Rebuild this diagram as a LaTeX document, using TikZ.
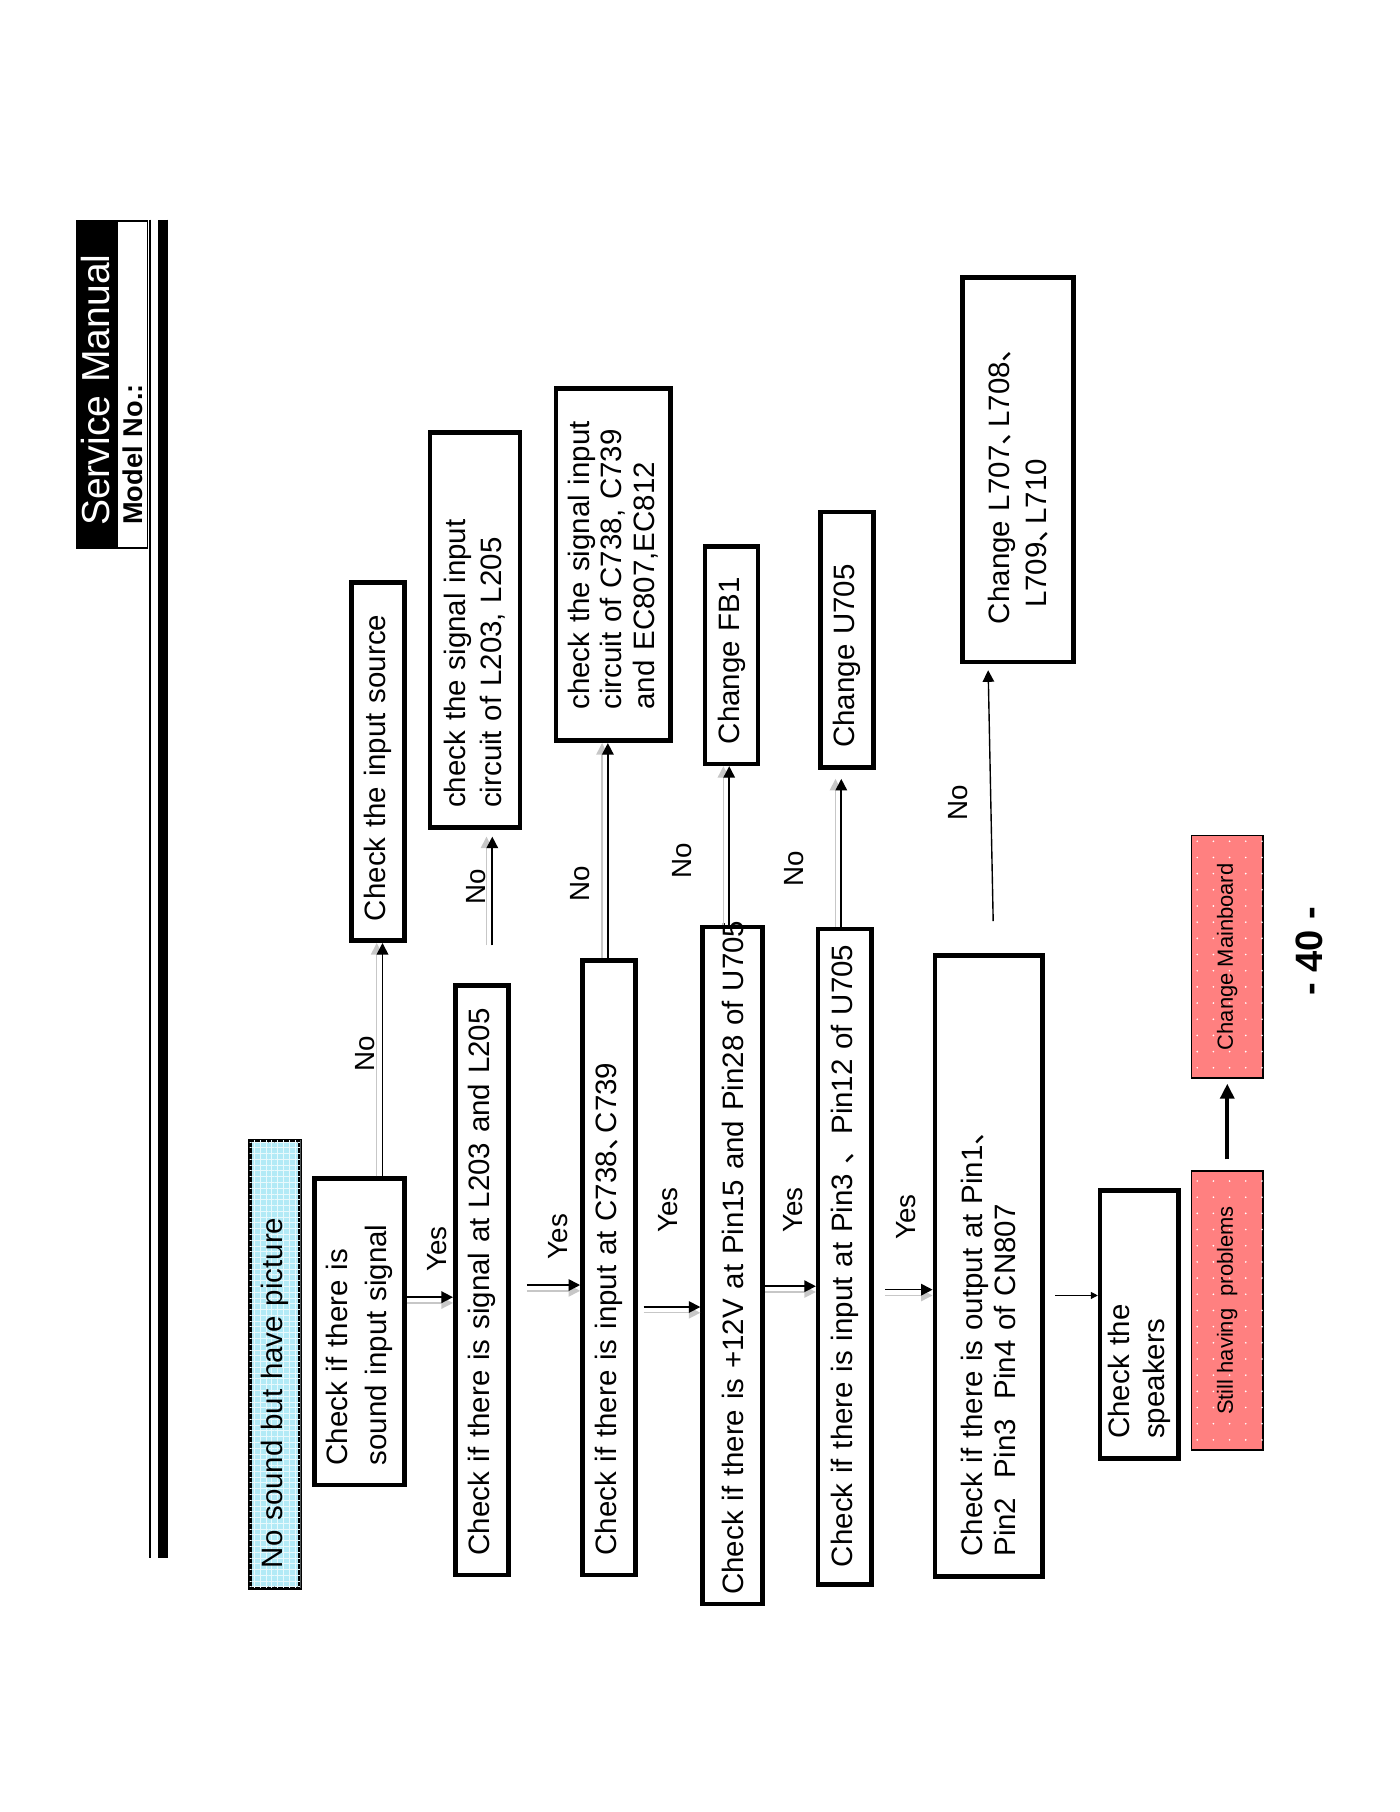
\documentclass[tikz,border=0pt]{standalone}
\usepackage{fontspec}
\setmainfont{Liberation Sans}
\newfontfamily\cjkfont{Noto Sans CJK SC}
\usetikzlibrary{arrows.meta,patterns.meta}
\newcommand\dun{\makebox[0.6em][l]{\cjkfont 、}}
\definecolor{startblue}{RGB}{178,234,246}
\definecolor{pinkbox}{RGB}{255,128,128}
\tikzset{
  box_n/.style = {draw=black, line width=4pt, rotate=90, align=left,
    inner xsep=17pt, inner ysep=0pt, font=\fontsize{25.5}{31}\selectfont},
  start_n/.style = {box_n, line width=3.5pt, fill=startblue,
    postaction={pattern color=white!70!startblue,
      pattern={Hatch[distance=5pt,angle=0,line width=0.3pt]}}},
  pink_n/.style = {draw=black, line width=1.5pt, rotate=90, align=center,
    fill=pinkbox, font=\fontsize{19}{23}\selectfont,
    postaction={pattern color=white,
      pattern={Dots[distance=14pt,radius=0.8pt]}}},
  lbl_n/.style = {rotate=90, inner sep=0pt, font=\fontsize{24}{28}\selectfont},
  arr/.style = {-{Triangle[length=10pt,width=10pt]}, line width=1.4pt},
  shv/.style = {preaction={draw=black!22, line width=1.2pt,
    transform canvas={xshift=-5pt}}},
  shh/.style = {preaction={draw=black!22, line width=1.2pt,
    transform canvas={yshift=-5pt}}},
}

\begin{document}
\begin{tikzpicture}[x=1pt, y=-1pt]
  \useasboundingbox (0,0) rectangle (1211,1568);
  \node [fill=black, text=white, rotate=90, minimum height=34pt, text width=245pt,
    inner xsep=20pt, inner ysep=0pt, align=left,
    font=\fontsize{33.8}{38}\selectfont] (title) at (83,332.5) {Service Manual};
  \node [draw=black, line width=1.5pt, rotate=90, minimum height=26.5pt,
    text width=243pt, inner xsep=20pt, inner ysep=0pt, align=left,
    font=\bfseries\fontsize{23.5}{28}\selectfont] (model) at (114.5,332.5) {Model No.:};
  \draw [line width=1.5pt] (130,190) -- (130,1348);
  \draw [line width=9pt] (141,190) -- (141,1348);

  \node [start_n, text width=353pt, minimum height=44pt] (start) at (238,1180.5)
    {No sound but have picture};
  \node [box_n, text width=231pt, minimum height=78pt,
    font=\fontsize{25.5}{34}\selectfont] (sndin) at (311,1152.5)
    {Check if there is\\sound input signal};
  \node [box_n, text width=276pt, minimum height=46pt] (src) at (327,659)
    {Check the input source};
  \node [box_n, text width=476pt, minimum height=46pt] (l203) at (417,1108)
    {Check if there is signal at L203 and L205};
  \node [box_n, text width=308pt, minimum height=78pt] (l203c) at (411,545)
    {check the signal input\\circuit of L203, L205};
  \node [box_n, text width=498pt, minimum height=46pt] (c738) at (527,1097)
    {Check if there is input at C738\dun C739};
  \node [box_n, inner xsep=27pt, text width=251pt, minimum height=99pt,
    font=\fontsize{25.5}{28}\selectfont] (c738c) at (530.5,488.5)
    {check the signal input\\circuit of C738, C739\\and EC807,EC812};
  \node [box_n, inner xsep=8pt, text width=570pt, minimum height=52pt] (v12) at (634,1095)
    {\mbox{Check if there is +12V at Pin15 and Pin28 of U705}};
  \node [box_n, text width=154pt, minimum height=46pt] (fb1) at (633,567)
    {Change FB1};
  \node [box_n, inner xsep=15pt, text width=537pt, minimum height=46pt] (pin3)
    at (731,1087.5) {\mbox{Check if there is input at Pin3 {\cjkfont 、}Pin12 of U705}};
  \node [box_n, text width=187pt, minimum height=46pt] (u705) at (733,553.5)
    {Change U705};
  \node [box_n, text width=503pt, minimum height=93pt,
    font=\fontsize{25.5}{28}\selectfont] (out) at (855.5,1095.5)
    {Check if there is output at Pin1\dun\\Pin2\ \ Pin3\ \ Pin4 of CN807};
  \node [box_n, inner xsep=33pt, text width=267pt, minimum height=96pt,
    font=\fontsize{25.5}{32}\selectfont] (lchg) at (881,406.5)
    {Change L707\dun L708\dun\\\hspace*{14pt}L709\dun L710};
  \node [box_n, text width=198pt, minimum height=68pt,
    font=\fontsize{25.5}{30}\selectfont] (spk) at (986,1146)
    {Check the\\speakers};
  \node [pink_n, minimum width=242pt, minimum height=62pt] (still) at (1062,1134)
    {Still having\ \ problems};
  \node [pink_n, minimum width=210pt, minimum height=62pt] (mainb) at (1062,828)
    {Change Mainboard};

  \node [lbl_n] (no1) at (316,912) {No};
  \node [lbl_n] (yes1) at (378,1081) {Yes};
  \node [lbl_n] (no2) at (412,767) {No};
  \node [lbl_n] (yes2) at (483,1070) {Yes};
  \node [lbl_n] (no3) at (502,765) {No};
  \node [lbl_n] (yes3) at (578,1047) {Yes};
  \node [lbl_n] (no4) at (590,745) {No};
  \node [lbl_n] (yes4) at (686,1047) {Yes};
  \node [lbl_n] (no5) at (687,752) {No};
  \node [lbl_n] (yes5) at (784,1053) {Yes};
  \node [lbl_n] (no6) at (829,695) {No};
  \node [rotate=90, font=\bfseries\fontsize{33}{38}\selectfont] (pgno) at (1133,823) {- 40 -};

  \draw [arr, shv] ([xshift=4pt]src.west |- sndin.east) -- ([xshift=4pt]src.west);
  \draw [arr, shh] ([yshift=30pt]sndin.south) -- ([yshift=30pt]sndin.south -| l203.north);
  \draw [arr, shv, shorten <=33pt, shorten >=6pt] ([xshift=15pt]l203c.west |- l203.east)
    -- ([xshift=15pt]l203c.west);
  \draw [arr, shh, shorten <=14pt] ([yshift=-4pt]l203.south) -- ([yshift=-4pt]l203.south -| c738.north);
  \draw [arr, shv] ([xshift=-4.5pt]c738c.west |- c738.east) -- ([xshift=-4.5pt]c738c.west);
  \draw [arr, shh, shorten <=5pt] ([yshift=-34pt]c738.south) -- ([yshift=-34pt]c738.south -| v12.north);
  \draw [arr, shv] ([xshift=-2pt]fb1.west |- v12.east) -- ([xshift=-2pt]fb1.west);
  \draw [arr, shh] ([yshift=-18pt]v12.south) -- ([yshift=-18pt]v12.south -| pin3.north);
  \draw [arr, shv, shorten >=8pt] ([xshift=-5pt]u705.west |- pin3.east) -- ([xshift=-5pt]u705.west);
  \draw [arr, shh, shorten <=10pt] ([yshift=-28.5pt]pin3.south) -- ([yshift=-28.5pt]pin3.south -| out.north);
  \draw [arr, line width=1.2pt, shorten <=28pt, shorten >=5pt] ([xshift=4.5pt]out.east)
    -- ([xshift=-26pt]lchg.west);
  \draw [-{Triangle[length=6pt,width=6pt]}, line width=1pt, shorten <=9pt]
    ([yshift=-25.5pt]out.south) -- ([yshift=-25.5pt]out.south -| spk.north);
  \draw [-{Triangle[length=13pt,width=12pt]}, line width=3.5pt, shorten <=9pt, shorten >=4pt]
    (still.east) -- (mainb.west);
\end{tikzpicture}
\end{document}
